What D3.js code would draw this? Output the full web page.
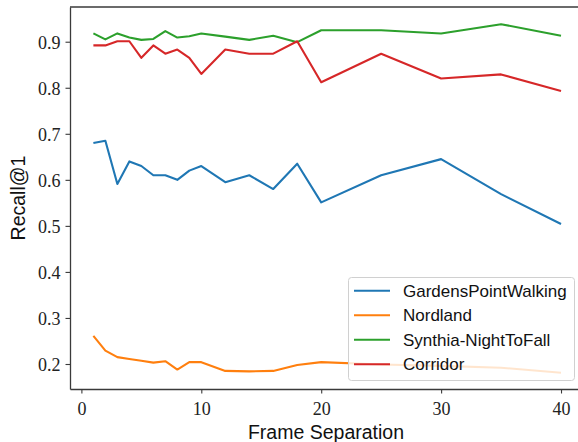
<!DOCTYPE html>
<html>
<head>
<meta charset="utf-8">
<script src="https://cdn.jsdelivr.net/npm/d3@7"></script>
<style>
	body { margin: 0; background: #fff; }
	svg { display: block; }
</style>
</head>
<body>
<svg width="578" height="442"></svg>
<script>
// frame separations used in the experiment
var separations = [1, 2, 3, 4, 5, 6, 7, 8, 9, 10, 12, 14, 16, 18, 20, 25, 30, 35, 40];

var seriesNames = ['GardensPointWalking', 'Nordland', 'Synthia-NightToFall', 'Corridor'];

// recall@1 per dataset
var gardensPoint = [0.680, 0.685, 0.591, 0.640, 0.630, 0.610, 0.610, 0.600, 0.620, 0.630, 0.595, 0.610, 0.580, 0.635, 0.551, 0.610, 0.645, 0.569, 0.504];
var nordland = [0.261, 0.229, 0.215, 0.211, 0.207, 0.203, 0.206, 0.188, 0.204, 0.204, 0.185, 0.184, 0.185, 0.198, 0.204, 0.199, 0.196, 0.192, 0.181];
var synthia = [0.918, 0.905, 0.918, 0.909, 0.904, 0.906, 0.923, 0.909, 0.912, 0.918, 0.911, 0.904, 0.913, 0.899, 0.925, 0.925, 0.918, 0.938, 0.913];
var corridor = [0.892, 0.892, 0.901, 0.901, 0.865, 0.892, 0.874, 0.883, 0.865, 0.830, 0.883, 0.874, 0.874, 0.901, 0.812, 0.874, 0.820, 0.829, 0.793];

var xTicks = [0, 10, 20, 30, 40];
var yTicks = [0.2, 0.3, 0.4, 0.5, 0.6, 0.7, 0.8, 0.9];

var colors = ['#1f77b4', '#ff7f0e', '#2ca02c', '#d62728'];

var svg = d3.select('svg');

// plot area (right edge of the axes falls outside the picture)
var plotLeft = 70, plotTop = 7, plotBottom = 389;

var x = d3.scaleLinear()
	.domain([-0.95, 41.95])
	.range([plotLeft, 81 + 41.95 * 12]);

var y = d3.scaleLinear()
	.domain([0.1457, 0.9754])
	.range([plotBottom, plotTop]);

var allSeries = [gardensPoint, nordland, synthia, corridor];

var line = d3.line()
	.x(function(d, i) { return x(separations[i]); })
	.y(function(d) { return y(d); });

svg.selectAll('path.series')
	.data(allSeries)
	.enter()
	.append('path')
	.attr('class', 'series')
	.attr('d', line)
	.attr('fill', 'none')
	.attr('stroke', function(d, i) { return colors[i]; })
	.attr('stroke-width', 2.1)
	.attr('stroke-linejoin', 'round');

// axes, no outer ticks like matplotlib
var xAxis = svg.append('g')
	.attr('transform', 'translate(0,' + plotBottom + ')')
	.call(d3.axisBottom(x).tickValues(xTicks).tickSizeInner(4.5).tickSizeOuter(0).tickPadding(6).tickFormat(d3.format('d')));

var yAxis = svg.append('g')
	.attr('transform', 'translate(' + plotLeft + ',0)')
	.call(d3.axisLeft(y).tickValues(yTicks).tickSizeInner(4.5).tickSizeOuter(0).tickPadding(5).tickFormat(d3.format('.1f')));

[xAxis, yAxis].forEach(function(g) {
	g.select('.domain').attr('stroke', '#3a3a3a').attr('stroke-width', 1.3);
	g.selectAll('.tick line').attr('stroke', '#3a3a3a').attr('stroke-width', 1.1);
	g.selectAll('.tick text')
		.attr('fill', '#222')
		.style('font-family', '"Liberation Serif", serif')
		.style('font-size', '18px');
});
xAxis.selectAll('.tick text').attr('dy', '0.85em');
yAxis.selectAll('.tick text').attr('dy', '0.35em');

// top spine
svg.append('line')
	.attr('x1', plotLeft).attr('x2', 578)
	.attr('y1', plotTop).attr('y2', plotTop)
	.attr('stroke', '#3a3a3a')
	.attr('stroke-width', 1.3);

// axis labels
svg.append('text')
	.attr('x', 326)
	.attr('y', 439)
	.attr('text-anchor', 'middle')
	.style('font-family', '"Liberation Sans", Arial, sans-serif')
	.style('font-size', '19.5px')
	.attr('fill', '#111')
	.text('Frame Separation');

svg.append('text')
	.attr('transform', 'translate(25,198) rotate(-90)')
	.attr('text-anchor', 'middle')
	.style('font-family', '"Liberation Sans", Arial, sans-serif')
	.style('font-size', '19.5px')
	.attr('fill', '#111')
	.text('Recall@1');

// legend
var legend = svg.append('g');

legend.append('rect')
	.attr('x', 348.5).attr('y', 277.5)
	.attr('width', 226).attr('height', 103)
	.attr('rx', 3)
	.attr('fill', 'white')
	.attr('fill-opacity', 0.8)
	.attr('stroke', '#d0d0d0');

var rows = legend.selectAll('g.row')
	.data(seriesNames)
	.enter()
	.append('g')
	.attr('class', 'row')
	.attr('transform', function(d, i) { return 'translate(0,' + (290.7 + i * 24.5) + ')'; });

rows.append('line')
	.attr('x1', 354).attr('x2', 390)
	.attr('stroke', function(d, i) { return colors[i]; })
	.attr('stroke-width', 2.1);

rows.append('text')
	.attr('x', 403)
	.attr('dy', '0.36em')
	.style('font-family', '"Liberation Sans", Arial, sans-serif')
	.style('font-size', '17px')
	.attr('fill', '#111')
	.text(function(d) { return d; });
</script>
</body>
</html>
